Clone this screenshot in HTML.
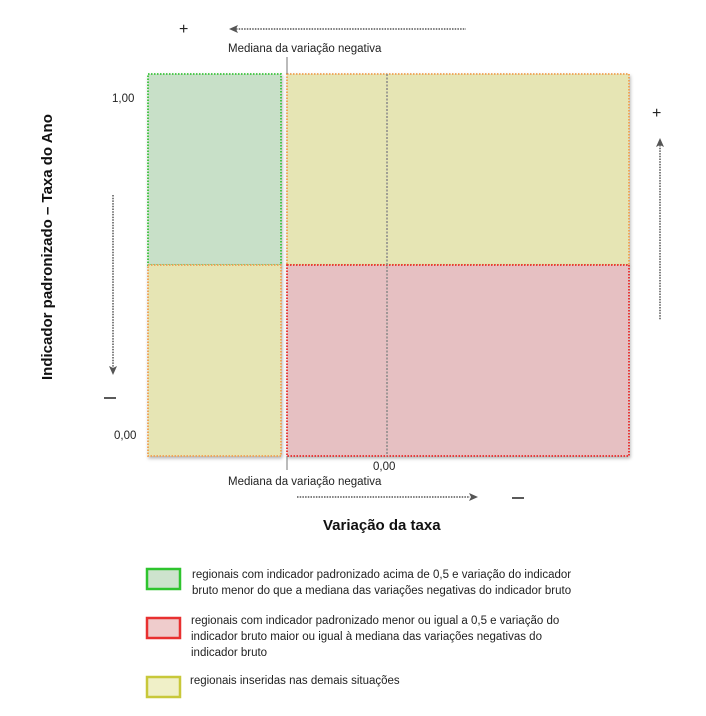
<!DOCTYPE html>
<html><head><meta charset="utf-8"><style>
body{margin:0;background:#fff;font-family:"Liberation Sans",sans-serif;}
svg{display:block}
.t{font-size:11.5px;fill:#222}
</style></head><body>
<svg width="706" height="716">
<defs><filter id="sh" x="-5%" y="-5%" width="110%" height="110%"><feDropShadow dx="1" dy="2" stdDeviation="1.5" flood-opacity="0.3"/></filter></defs>
<g id="quads"></g>
<line x1="387" y1="74" x2="387" y2="456" stroke="#888" stroke-width="1.5" stroke-dasharray="2,1.5"/>
<line x1="287" y1="57" x2="287" y2="74" stroke="#777"/>
<line x1="287" y1="456" x2="287" y2="470" stroke="#777"/>
<text x="228" y="52" class="t">Mediana da variação negativa</text>
<text x="228" y="485" class="t">Mediana da variação negativa</text>
<text x="112" y="102" class="t">1,00</text>
<text x="114" y="439" class="t">0,00</text>
<text x="373" y="470" class="t">0,00</text>
<text x="179" y="34" font-size="16" fill="#222">+</text>
<text x="652" y="118" font-size="16" fill="#222">+</text>
<line x1="104" y1="398" x2="116" y2="398" stroke="#222" stroke-width="1.5"/>
<line x1="512" y1="498" x2="524" y2="498" stroke="#222" stroke-width="1.5"/>
<g stroke="#555" stroke-width="1.5" stroke-dasharray="1.5,1.2" fill="none">
<line x1="236" y1="29" x2="466" y2="29"/>
<line x1="297" y1="497" x2="470" y2="497"/>
<line x1="113" y1="195" x2="113" y2="368"/>
<line x1="660" y1="145" x2="660" y2="320"/>
</g>
<g fill="#555">
<path d="M229 29 L238 25 L236 29 L238 33Z"/>
<path d="M478 497 L469 493 L471 497 L469 501Z"/>
<path d="M113 375 L109 366 L113 368 L117 366Z"/>
<path d="M660 138 L656 147 L660 145 L664 147Z"/>
</g>
<text x="0" y="0" font-size="15" font-weight="bold" fill="#111" transform="translate(52,380) rotate(-90)">Indicador padronizado – Taxa do Ano</text>
<text x="323" y="530" font-size="15" font-weight="bold" fill="#111">Variação da taxa</text>
<g>
<rect x="147" y="569" width="33" height="20" fill="#cde3cd" stroke="#2ec42e" stroke-width="2.5"/>
<text x="192" y="578" class="t"><tspan>regionais com indicador padronizado acima de 0,5 e variação do indicador</tspan><tspan x="192" dy="16">bruto menor do que a mediana das variações negativas do indicador bruto</tspan></text>
<rect x="147" y="618" width="33" height="20" fill="#efcccc" stroke="#e83030" stroke-width="2.5"/>
<text x="191" y="624" class="t"><tspan>regionais com indicador padronizado menor ou igual a 0,5 e variação do</tspan><tspan x="191" dy="16">indicador bruto maior ou igual à mediana das variações negativas do</tspan><tspan x="191" dy="16">indicador bruto</tspan></text>
<rect x="147" y="677" width="33" height="20" fill="#f0f0c8" stroke="#c8c83a" stroke-width="2.5"/>
<text x="190" y="684" class="t">regionais inseridas nas demais situações</text>
</g>
</svg>
<script>
// quadrants in data units: x from -1..1 (median at 0 split), y 0..1
const quadNames=['quad-green','quad-yellow-right','quad-yellow-left','quad-red'];
const quadX0=[148,287,148,287];
const quadX1=[281,629,281,629];
const quadY0=[74,74,265,265];
const quadY1=[265,265,456,456];
const fills=['#c8e0c8','#e6e5b4','#e6e5b4','#e6c0c2'];
const strokes=['#3ac43a','#f0a050','#f0a050','#e82a2a'];
const g=document.getElementById('quads');
const NS='http://www.w3.org/2000/svg';
quadNames.forEach((n,i)=>{
 const r=document.createElementNS(NS,'rect');
 r.setAttribute('x',quadX0[i]);r.setAttribute('y',quadY0[i]);
 r.setAttribute('width',quadX1[i]-quadX0[i]);r.setAttribute('height',quadY1[i]-quadY0[i]);
 r.setAttribute('fill',fills[i]);r.setAttribute('stroke',strokes[i]);
 r.setAttribute('stroke-width','1.8');r.setAttribute('stroke-dasharray','1.5,1.5');
 r.setAttribute('filter','url(#sh)');
 
 
 g.appendChild(r);
});
</script>
</body></html>
